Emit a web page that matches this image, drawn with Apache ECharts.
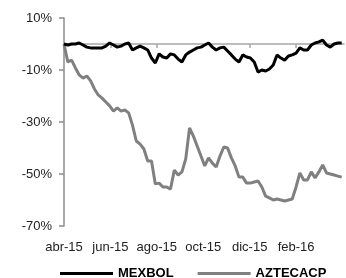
<!DOCTYPE html>
<html>
<head>
<meta charset="utf-8">
<script src="https://cdn.jsdelivr.net/npm/echarts@6/dist/echarts.min.js"></script>
<style>
  html, body { margin: 0; padding: 0; background: #fff; }
  #chart { width: 346px; height: 278px; }
</style>
</head>
<body>
<div id="chart"></div>
<script>
// dias desde 1-abr-2015
var days = [0,5,10,15,20,25,30,35,40,45,50,55,60,65,70,75,80,85,90,95,
  100,105,110,115,120,125,130,135,140,145,150,155,160,165,170,175,180,185,190,195,
  200,205,210,215,220,225,230,235,240,245,250,255,260,265,270,275,280,285,290,295,
  300,305,310,315,320,325,330,335,340,345,350,355,360,365];

var mexbol = [0,-0.4,0,0,0.4,-0.4,-1.2,-1.5,-1.5,-1.5,-1.5,-0.8,0.4,-0.4,-1.2,-0.8,0,0.4,-2.3,-1.5,
  -0.8,-1.5,-2.3,-5.4,-7.3,-3.8,-5.0,-5.4,-3.8,-4.2,-5.8,-6.9,-4.2,-3.1,-2.3,-1.5,-1.2,-0.4,0.4,-1.2,
  -2.3,-1.5,-1.2,-2.7,-4.2,-5.8,-6.9,-4.2,-5.0,-5.4,-6.9,-10.8,-10.0,-10.4,-9.6,-8.1,-4.2,-5.4,-6.2,-4.6,
  -4.2,-3.5,-1.5,-2.3,-2.3,-0.4,0.4,0.8,1.5,-0.4,-1.2,0,0.4,0.4];

var aztecacp = [0,-6.9,-6.2,-9.2,-11.9,-13.1,-12.3,-14.2,-17.3,-19.6,-20.8,-22.3,-23.8,-25.8,-24.6,-25.8,-25.4,-26.5,-31.2,-37.3,
  -38.5,-40.4,-45,-45,-53.8,-53.5,-55,-55,-55.8,-48.5,-50.4,-49.2,-44.2,-32.3,-35.4,-39.2,-43.1,-46.9,-43.8,-45.8,
  -47.3,-43.1,-39.6,-40,-43.8,-46.9,-51.2,-51.2,-53.5,-53.5,-53.1,-52.7,-55,-58.5,-59.2,-60,-59.6,-60,-60.4,-60,
  -59.6,-55,-49.6,-52.3,-52.3,-49.2,-51.5,-49.2,-46.5,-49.6,-50,-50.4,-50.8,-51.2];

var monthLabels = ['abr-15','jun-15','ago-15','oct-15','dic-15','feb-16'];
var monthTicks = [0, 61, 122, 183, 244, 305];

var font = 'Liberation Sans, Arial, sans-serif';

function pairs(vals) {
  return days.map(function (d, i) { return [d, vals[i]]; });
}

var option = {
  animation: false,
  grid: { left: 64, right: 2, top: 18, bottom: 52, containLabel: false },
  legend: {
    left: 60,
    top: 267,
    padding: 0,
    icon: 'rect',
    itemWidth: 53,
    itemHeight: 3,
    itemGap: 24,
    textStyle: { fontFamily: font, fontSize: 13, fontWeight: 'bold', color: '#000' },
    data: ['MEXBOL', 'AZTECACP']
  },
  xAxis: [{
    type: 'value',
    min: 0,
    max: 368,
    interval: 61,
    position: 'bottom',
    axisLine: { show: false, onZero: false },
    axisTick: { show: false },
    splitLine: { show: false },
    axisLabel: {
      margin: 15,
      fontFamily: font,
      fontSize: 13,
      color: '#222',
      showMaxLabel: false,
      formatter: function (v) {
        var i = Math.round(v / 61);
        if (v % 61 !== 0 || i >= monthLabels.length) return '';
        return monthLabels[i];
      }
    }
  }, {
    type: 'value',
    min: 0,
    max: 368,
    interval: 61,
    position: 'bottom',
    axisLine: { show: true, onZero: true, lineStyle: { color: '#a6a6a6', width: 1.5 } },
    axisTick: { show: true, length: 4, customValues: monthTicks, lineStyle: { color: '#a6a6a6', width: 1.5 } },
    axisLabel: { show: false },
    splitLine: { show: false }
  }],
  yAxis: {
    type: 'value',
    min: -70,
    max: 10,
    interval: 20,
    axisLine: { show: true, lineStyle: { color: '#8c8c8c', width: 1.5 } },
    axisTick: { show: true, length: 5, lineStyle: { color: '#8c8c8c', width: 1.5 } },
    splitLine: { show: false },
    axisLabel: {
      margin: 12,
      fontFamily: font,
      fontSize: 13,
      color: '#222',
      formatter: '{value}%'
    }
  },
  series: [{
    name: 'AZTECACP',
    type: 'line',
    xAxisIndex: 0,
    symbol: 'none',
    color: '#808080',
    lineStyle: { color: '#808080', width: 3 },
    data: pairs(aztecacp)
  }, {
    name: 'MEXBOL',
    type: 'line',
    xAxisIndex: 0,
    symbol: 'none',
    color: '#000',
    lineStyle: { color: '#000', width: 3 },
    data: pairs(mexbol)
  }]
};

var myChart = echarts.init(document.getElementById('chart'));
myChart.setOption(option);
</script>
</body>
</html>
